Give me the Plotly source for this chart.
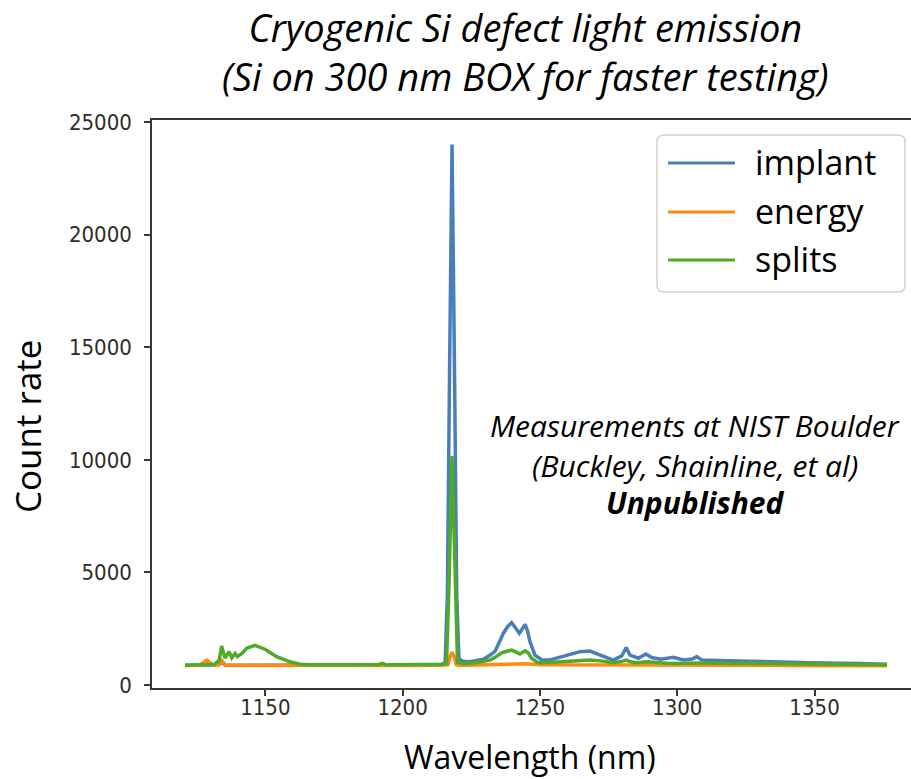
import plotly.graph_objects as go

# Spectra: wavelength (nm) and count rate for each implant condition
implant_x = [1120.8, 1126, 1128.7, 1131, 1133, 1134.2, 1135.5, 1140, 1150, 1165, 1180, 1192, 1205, 1214,
             1215.5, 1216.3, 1217.1, 1218.0, 1218.9, 1219.7, 1220.5, 1222, 1224.5, 1229.4, 1231.5, 1233.6,
             1235.2, 1236.7, 1238.3, 1239.7, 1241.0, 1242.5, 1243.6, 1244.6, 1245.5, 1246.4, 1248.2, 1250.7,
             1253.7, 1258.5, 1262, 1264.6, 1268.2, 1271.9, 1276.7, 1279.8, 1281.4, 1282.8, 1285.8, 1288.6,
             1290.7, 1294, 1298.6, 1302.2, 1305.5, 1307.1, 1308.9, 1318, 1330, 1348, 1366, 1376.4]
implant_y = [880, 880, 890, 880, 900, 1000, 890, 880, 880, 875, 875, 880, 885, 900,
             1000, 4000, 14000, 24000, 14000, 4000, 1150, 1050, 1035, 1140, 1300, 1480,
             1900, 2300, 2600, 2770, 2550, 2300, 2500, 2690, 2400, 1920, 1330, 1110,
             1110, 1290, 1400, 1480, 1510, 1330, 1110, 1290, 1660, 1330, 1190, 1380,
             1220, 1150, 1230, 1110, 1150, 1260, 1110, 1080, 1035, 990, 960, 920]

energy_x = [1120.8, 1126, 1128.7, 1131, 1133, 1134.2, 1135.5, 1150, 1180, 1200, 1214, 1216.5, 1217.4,
            1218.0, 1218.7, 1219.6, 1222, 1235, 1240, 1245, 1250, 1280, 1300, 1340, 1376.4]
energy_y = [870, 880, 1100, 880, 900, 1080, 880, 870, 865, 870, 875, 900, 1300,
            1450, 1300, 900, 880, 920, 960, 940, 900, 900, 880, 870, 860]

splits_x = [1120.8, 1126, 1129, 1131.5, 1133.2, 1134.1, 1135.3, 1136.8, 1137.8, 1139, 1139.8, 1141.5,
            1143.2, 1146.2, 1149.9, 1154.1, 1159, 1162.6, 1166, 1175, 1185, 1191, 1192.5, 1194, 1205,
            1214, 1216.0, 1216.9, 1218.0, 1219.1, 1220.0, 1222, 1224.5, 1228, 1231.8, 1234, 1236, 1238,
            1239.7, 1241.2, 1242.7, 1244.6, 1245.8, 1246.9, 1249.3, 1255, 1260.8, 1268.2, 1273, 1276.7,
            1279.5, 1281.4, 1283, 1285.3, 1288.9, 1297.4, 1310, 1330, 1350, 1376.4]
splits_y = [880, 890, 900, 920, 1100, 1730, 1200, 1480, 1210, 1400, 1260, 1400,
            1630, 1760, 1590, 1260, 1030, 920, 900, 895, 900, 900, 960, 900, 905,
            910, 950, 4500, 10170, 4500, 1000, 950, 960, 1020, 1110, 1250, 1430, 1500,
            1550, 1470, 1380, 1520, 1420, 1190, 990, 1010, 1065, 1110, 1060, 990,
            1040, 1110, 1030, 990, 1030, 960, 975, 960, 940, 900]

series_names = ["implant", "energy", "splits"]
series_colors = ["#4a7ebb", "#ff8a10", "#4fab27"]

x_ticks = [1150, 1200, 1250, 1300, 1350]
y_ticks = [0, 5000, 10000, 15000, 20000, 25000]

title_lines = ["Cryogenic Si defect light emission", "(Si on 300 nm BOX for faster testing)"]
note_lines = ["Measurements at NIST Boulder", "(Buckley, Shainline, et al)", "Unpublished"]

W, H = 911, 779
L, R, T, B = 152, 911, 120, 688
AXIS = "#3b372f"
TEXT_FONT = "Open Sans, Lato, sans-serif"
TICK_FONT = dict(family="DejaVu Sans Condensed, DejaVu Sans", size=22, color="#2f2c27")


def px_x(p):
    return (p - L) / (R - L)


def px_y(p):
    return (B - p) / (B - T)


fig = go.Figure()
for xs, ys, name, color in zip([implant_x, energy_x, splits_x],
                               [implant_y, energy_y, splits_y],
                               series_names, series_colors):
    fig.add_trace(go.Scatter(x=xs, y=ys, mode="lines", name=name,
                             line=dict(color=color, width=3.5)))

fig.update_layout(
    width=W, height=H,
    margin=dict(l=L, r=W - R, t=T, b=H - B),
    paper_bgcolor="white", plot_bgcolor="white",
    showlegend=False,
)

fig.update_xaxes(
    range=[1108.74, 1385.13], tickvals=x_ticks, ticktext=[str(v) for v in x_ticks],
    showgrid=False, zeroline=False, showline=True, linecolor=AXIS, linewidth=1.5, mirror=True,
    ticks="outside", ticklen=6, tickwidth=1.5, tickcolor=AXIS,
    tickfont=TICK_FONT, ticklabelstandoff=-7,
)
fig.update_yaxes(
    range=[-133, 25089], tickvals=y_ticks, ticktext=[str(v) for v in y_ticks],
    showgrid=False, zeroline=False, showline=True, linecolor=AXIS, linewidth=1.5, mirror=False,
    ticks="outside", ticklen=6, tickwidth=1.5, tickcolor=AXIS,
    tickfont=TICK_FONT, ticklabelstandoff=8,
)

# Legend box with rounded corners (pixel geometry converted to paper units)
bx0, bx1, by0, by1, rad = 657, 905, 135, 292, 7
ax0, ax1 = px_x(bx0), px_x(bx1)
ay0, ay1 = px_y(by1), px_y(by0)
rx, ry = rad / (R - L), rad / (B - T)
box_path = (f"M{ax0 + rx},{ay1} L{ax1 - rx},{ay1} Q{ax1},{ay1} {ax1},{ay1 - ry} "
            f"L{ax1},{ay0 + ry} Q{ax1},{ay0} {ax1 - rx},{ay0} "
            f"L{ax0 + rx},{ay0} Q{ax0},{ay0} {ax0},{ay0 + ry} "
            f"L{ax0},{ay1 - ry} Q{ax0},{ay1} {ax0 + rx},{ay1} Z")
fig.add_shape(type="path", path=box_path, xref="paper", yref="paper",
              line=dict(color="#d6d1c6", width=1.5), fillcolor="white", layer="above")

for name, color, yc in zip(series_names, series_colors, [163, 212, 260]):
    fig.add_shape(type="line", xref="paper", yref="paper",
                  x0=px_x(668), x1=px_x(735), y0=px_y(yc), y1=px_y(yc),
                  line=dict(color=color, width=3), layer="above")
    fig.add_annotation(text=name, xref="paper", yref="paper",
                       x=px_x(753), y=px_y(yc - 1), xanchor="left", yanchor="middle",
                       showarrow=False, font=dict(family=TEXT_FONT, size=34, color="black"))

# Two-line italic title
fig.add_annotation(text="<i>" + "<br>".join(title_lines) + "</i>", xref="paper", yref="paper",
                   x=px_x(525), y=px_y(52), xanchor="center", yanchor="middle", align="center",
                   showarrow=False, borderpad=0,
                   font=dict(family=TEXT_FONT, size=38, color="black"))

# Axis titles
fig.add_annotation(text="Wavelength (nm)", xref="paper", yref="paper",
                   x=px_x(530), y=px_y(756), xanchor="center", yanchor="middle",
                   showarrow=False, borderpad=0,
                   font=dict(family=TEXT_FONT, size=32, color="black"))
fig.add_annotation(text="Count rate", xref="paper", yref="paper", textangle=-90,
                   x=px_x(27), y=px_y(427), xanchor="center", yanchor="middle",
                   showarrow=False, font=dict(family=TEXT_FONT, size=35, color="black"))

# Measurement note
note_fmt = ["<i>{}</i>", "<i>{}</i>", "<b><i>{}</i></b>"]
for text, fmt, yc in zip(note_lines, note_fmt, [425, 465, 502]):
    fig.add_annotation(text=fmt.format(text), xref="paper", yref="paper",
                       x=px_x(695), y=px_y(yc), xanchor="center", yanchor="middle",
                       showarrow=False, font=dict(family=TEXT_FONT, size=30, color="black"))

fig.write_html("out.html")
